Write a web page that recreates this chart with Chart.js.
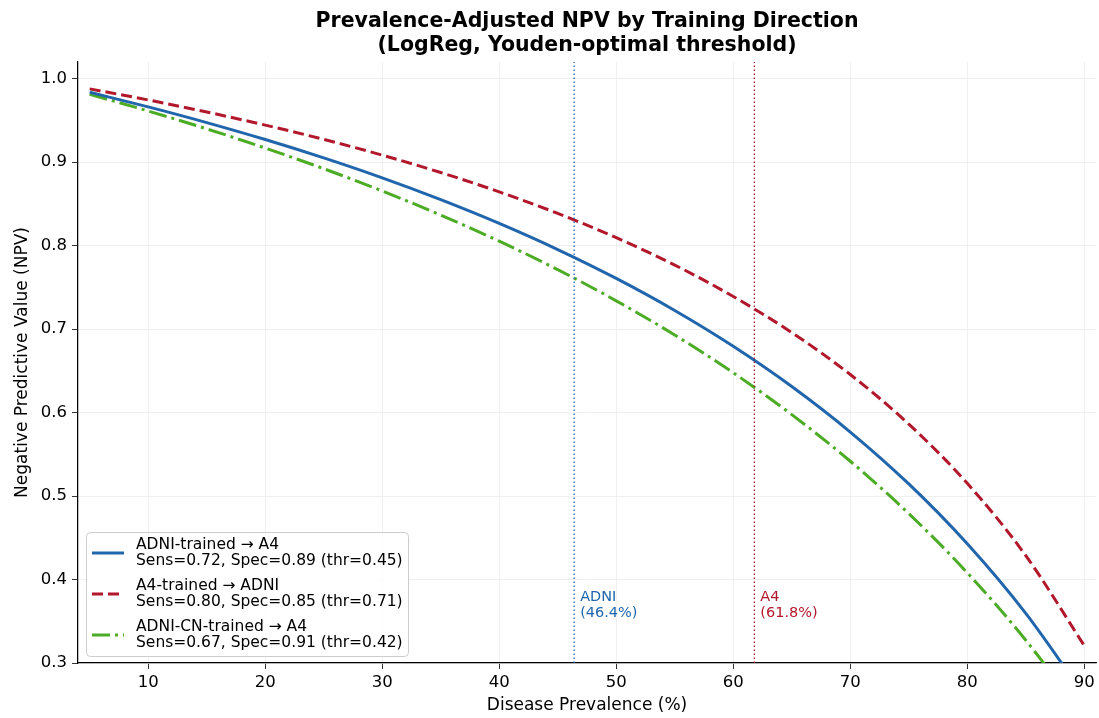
<!DOCTYPE html>
<html lang="en">
<head>
    <meta charset="UTF-8">
    <title>Prevalence-Adjusted NPV</title>
    <script src="https://cdn.jsdelivr.net/npm/chart.js"></script>
    <style>
        body { margin: 0; background: #fff; }
        .wrap { width: 1099px; height: 718px; position: relative; }
    </style>
</head>
<body>
    <div class="wrap">
        <canvas id="npvChart"></canvas>
    </div>

    <script>
        // Data
        const prevalence = [5, 10, 15, 20, 25, 30, 35, 40, 45, 50, 55, 60, 65, 70, 75, 80, 85, 90];
        const npvAdniToA4 = [0.9837, 0.9662, 0.9474, 0.9271, 0.9051, 0.8812, 0.8551, 0.8266, 0.7953, 0.7607,
                             0.7223, 0.6794, 0.6312, 0.5767, 0.5145, 0.4428, 0.3594, 0.2610];
        const npvA4ToAdni = [0.9878, 0.9745, 0.9601, 0.9444, 0.9273, 0.9084, 0.8876, 0.8644, 0.8386, 0.8095,
                             0.7767, 0.7391, 0.6959, 0.6456, 0.5862, 0.5152, 0.4286, 0.3208];
        const npvCnToA4 = [0.9813, 0.9613, 0.9399, 0.9169, 0.8922, 0.8655, 0.8366, 0.8053, 0.7712, 0.7339,
                           0.6929, 0.6477, 0.5976, 0.5417, 0.4790, 0.4081, 0.3273, 0.2345];

        const seriesLabels = [
            ['ADNI-trained \u2192 A4', 'Sens=0.72, Spec=0.89 (thr=0.45)'],
            ['A4-trained \u2192 ADNI', 'Sens=0.80, Spec=0.85 (thr=0.71)'],
            ['ADNI-CN-trained \u2192 A4', 'Sens=0.67, Spec=0.91 (thr=0.42)']
        ];
        const seriesColors = ['#2166ac', '#b2182b', '#4dac26'];
        const seriesDash = [[], [11, 5], [18, 5, 3, 5]];

        // observed cohort prevalences
        const cohortNames = ['ADNI', 'A4'];
        const cohortPrev = [46.4, 61.8];
        const cohortColors = ['#2166ac', '#b2182b'];

        const xTicks = [10, 20, 30, 40, 50, 60, 70, 80, 90];
        const yTicks = [0.3, 0.4, 0.5, 0.6, 0.7, 0.8, 0.9, 1.0];
        const titleLines = ['Prevalence-Adjusted NPV by Training Direction', '(LogReg, Youden-optimal threshold)'];

        const FONT = "'DejaVu Sans', sans-serif";

        function points(arr) {
            return prevalence.map((p, i) => ({ x: p, y: arr[i] }));
        }

        const curves = [npvAdniToA4, npvA4ToAdni, npvCnToA4].map((arr, i) => ({
            label: seriesLabels[i][0],
            data: points(arr),
            borderColor: seriesColors[i],
            borderWidth: 3,
            borderDash: seriesDash[i],
            pointRadius: 0,
            cubicInterpolationMode: 'monotone',
            fill: false,
            clip: 0
        }));

        const vlines = cohortPrev.map((p, i) => ({
            label: cohortNames[i],
            data: [{ x: p, y: 0.3 }, { x: p, y: 1.02 }],
            borderColor: cohortColors[i],
            borderWidth: 1.3,
            borderDash: [1.5, 2.5],
            pointRadius: 0,
            fill: false,
            clip: 0
        }));

        // title, cohort labels and two-line legend
        const extras = {
            id: 'extras',
            afterDraw(chart) {
                const c = chart.ctx;
                const area = chart.chartArea;
                const xs = chart.scales.x, ys = chart.scales.y;
                c.save();

                // title
                c.fillStyle = '#000';
                c.textAlign = 'center';
                c.textBaseline = 'middle';
                c.font = 'bold 20.5px ' + FONT;
                const cx = (area.left + area.right) / 2;
                titleLines.forEach((t, i) => c.fillText(t, cx, 22 + i * 24));

                // cohort labels
                c.font = '14.5px ' + FONT;
                c.textAlign = 'left';
                cohortPrev.forEach((p, i) => {
                    const px = xs.getPixelForValue(p) + 6;
                    const py = ys.getPixelForValue(0.379);
                    c.fillStyle = cohortColors[i];
                    c.fillText(cohortNames[i], px, py);
                    c.fillText('(' + p.toFixed(1) + '%)', px, py + 16);
                });

                // legend box
                const bx = area.left + 8, by = area.bottom - 131, bw = 322, bh = 124;
                c.fillStyle = 'rgba(255,255,255,0.85)';
                c.strokeStyle = '#cccccc';
                c.lineWidth = 1;
                c.beginPath();
                c.roundRect(bx + 0.5, by + 0.5, bw, bh, 4);
                c.fill();
                c.stroke();

                c.font = '15.5px ' + FONT;
                seriesLabels.forEach((lines, i) => {
                    const rowY = by + 21 + i * 41;
                    c.strokeStyle = seriesColors[i];
                    c.lineWidth = 3;
                    c.setLineDash(seriesDash[i]);
                    c.beginPath();
                    c.moveTo(bx + 6, rowY);
                    c.lineTo(bx + 38, rowY);
                    c.stroke();
                    c.setLineDash([]);
                    c.fillStyle = '#000';
                    c.fillText(lines[0], bx + 50, rowY - 8);
                    c.fillText(lines[1], bx + 50, rowY + 8);
                });
                c.restore();
            }
        };

        const ctx = document.getElementById('npvChart').getContext('2d');
        const npvChart = new Chart(ctx, {
            type: 'line',
            data: { datasets: vlines.concat(curves) },
            options: {
                responsive: true,
                maintainAspectRatio: false,
                animation: false,
                layout: { padding: { top: 62, right: 3, left: 0, bottom: 0 } },
                plugins: {
                    legend: { display: false },
                    title: { display: false },
                    tooltip: { enabled: false }
                },
                scales: {
                    x: {
                        type: 'linear',
                        min: 4,
                        max: 91,
                        afterBuildTicks: s => { s.ticks = xTicks.map(v => ({ value: v })); },
                        afterFit: s => { s.height = 55; },
                        ticks: { color: '#000', font: { family: FONT, size: 16.5 }, padding: 4, maxRotation: 0 },
                        grid: { color: '#ececec', lineWidth: 0.8, tickColor: '#000', tickLength: 6 },
                        border: { color: '#000', width: 1.25 },
                        title: { display: true, text: 'Disease Prevalence (%)', color: '#000',
                                 font: { family: FONT, size: 17 }, padding: { bottom: 2, top: 0 } }
                    },
                    y: {
                        min: 0.3,
                        max: 1.02,
                        afterBuildTicks: s => { s.ticks = yTicks.map(v => ({ value: v })); },
                        afterFit: s => { s.width = 78; },
                        ticks: { color: '#000', font: { family: FONT, size: 16.5 }, padding: 5,
                                 callback: v => v.toFixed(1) },
                        grid: { color: '#ececec', lineWidth: 0.8, tickColor: '#000', tickLength: 6 },
                        border: { color: '#000', width: 1.25 },
                        title: { display: true, text: 'Negative Predictive Value (NPV)', color: '#000',
                                 font: { family: FONT, size: 17 }, padding: { top: 12, bottom: 0 } }
                    }
                }
            },
            plugins: [extras]
        });
    </script>
</body>
</html>
